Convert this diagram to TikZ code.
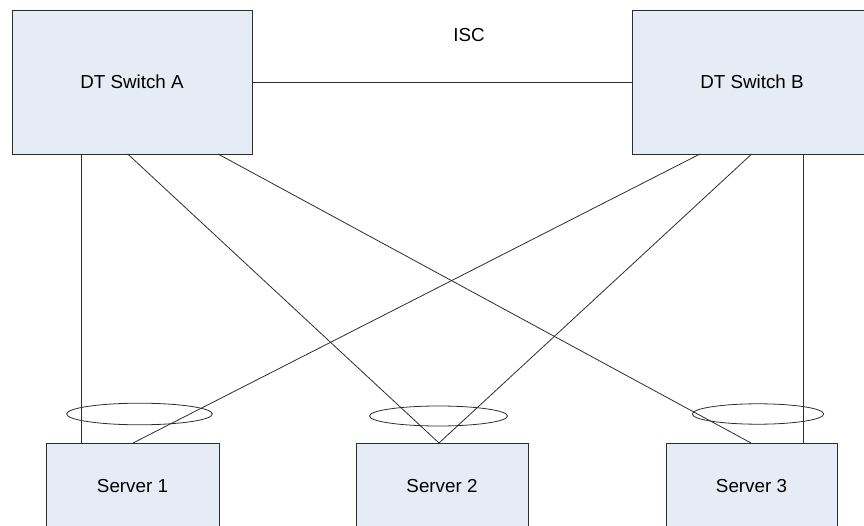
\documentclass[tikz,border=0pt]{standalone}
\usepackage{fontspec}
\setmainfont{Liberation Sans}
\definecolor{boxfill}{RGB}{230,236,246}
\definecolor{edge}{RGB}{45,45,45}
\tikzset{
  devbox/.style={draw=edge, fill=boxfill, line width=0.9pt, rectangle, inner sep=0pt, font=\fontsize{18.8}{21}\selectfont},
  link/.style={draw=edge, line width=0.8pt},
  lag/.style={draw=edge, line width=0.8pt, ellipse}
}
\begin{document}
\begin{tikzpicture}[x=1pt,y=-1pt]
\useasboundingbox (0,0) rectangle (864,526);
\clip (0,0) rectangle (864,526);
% switches
\node[devbox, minimum width=240pt, minimum height=144pt] (swA) at (132,82) {DT Switch A};
\node[devbox, minimum width=240pt, minimum height=144pt] (swB) at (752,82) {DT Switch B};
\node[font=\fontsize{18.8}{21}\selectfont] (isc) at (469,35) {ISC};
% servers
\node[devbox, minimum width=173pt, minimum height=86pt] (s1) at (132.5,486) {Server 1};
\node[devbox, minimum width=172pt, minimum height=86pt] (s2) at (442,486) {Server 2};
\node[devbox, minimum width=171pt, minimum height=86pt] (s3) at (751.5,486) {Server 3};
% attachment points
\coordinate (a1) at (81,154);
\coordinate (a2) at (127.7,154);
\coordinate (a3) at (218,154);
\coordinate (b1) at (700,154);
\coordinate (b2) at (751.7,154);
\coordinate (b3) at (803,154);
\coordinate (p1a) at (81,443);
\coordinate (p1b) at (133,443);
\coordinate (p2) at (439,443);
\coordinate (p3a) at (751,443);
\coordinate (p3b) at (803,443);
% links
\draw[link] (swA.east) -- (swB.west);
\draw[link] (a1) -- (p1a);
\draw[link] (a2) -- (p2);
\draw[link] (a3) -- (p3a);
\draw[link] (b1) -- (p1b);
\draw[link] (b2) -- (p2);
\draw[link] (b3) -- (p3b);
% LAG ellipses
\draw[link] (139.5,414) ellipse [x radius=72.8, y radius=10.8];
\draw[link] (438.5,416) ellipse [x radius=69, y radius=10];
\draw[link] (758,414) ellipse [x radius=65.7, y radius=10.2];
\end{tikzpicture}
\end{document}
